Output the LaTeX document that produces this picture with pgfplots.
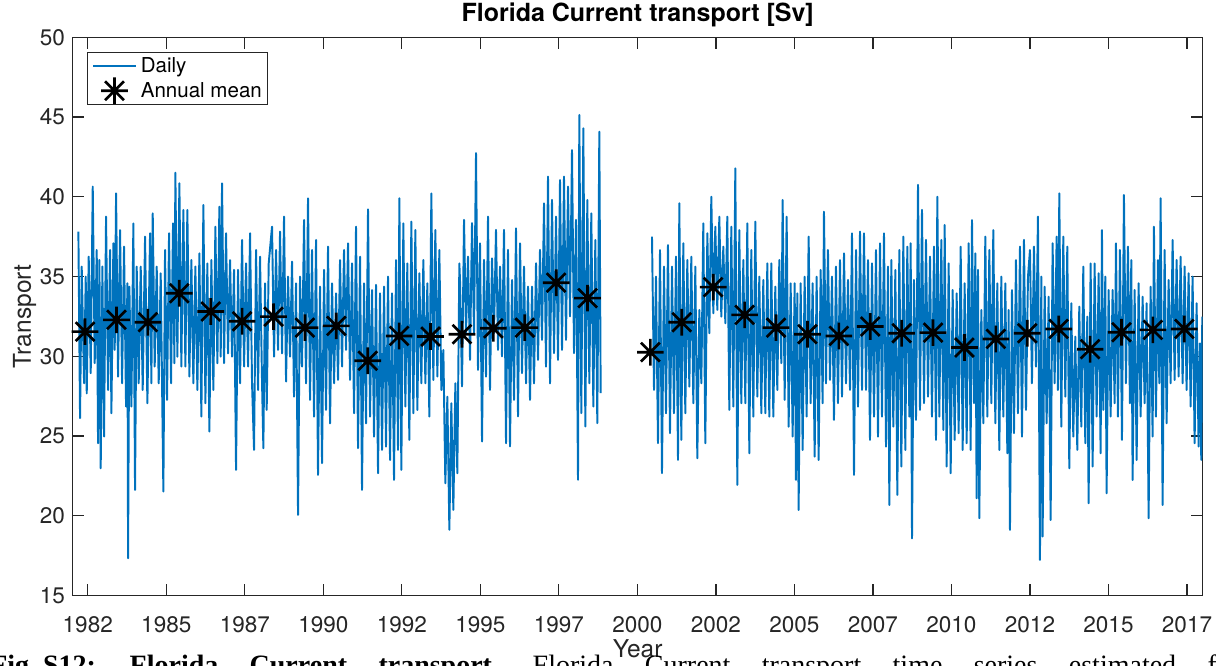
\documentclass[border=0pt]{standalone}
\usepackage{pgfplots}
\pgfplotsset{compat=1.18}
\usepackage{pgfplotstable}
\usepackage{fontspec}
\setmainfont{TeX Gyre Heros}
\newfontfamily\capfont{Liberation Serif}
\definecolor{mblue}{rgb}{0,0.447,0.741}
\definecolor{axgray}{rgb}{0.15,0.15,0.15}
\pgfdeclareplotmark{mstar}{%
 \pgfpathmoveto{\pgfqpoint{-\pgfplotmarksize}{0pt}}%
 \pgfpathlineto{\pgfqpoint{\pgfplotmarksize}{0pt}}%
 \pgfpathmoveto{\pgfqpoint{0pt}{-\pgfplotmarksize}}%
 \pgfpathlineto{\pgfqpoint{0pt}{\pgfplotmarksize}}%
 \pgfpathmoveto{\pgfqpoint{-0.7071\pgfplotmarksize}{-0.7071\pgfplotmarksize}}%
 \pgfpathlineto{\pgfqpoint{0.7071\pgfplotmarksize}{0.7071\pgfplotmarksize}}%
 \pgfpathmoveto{\pgfqpoint{-0.7071\pgfplotmarksize}{0.7071\pgfplotmarksize}}%
 \pgfpathlineto{\pgfqpoint{0.7071\pgfplotmarksize}{-0.7071\pgfplotmarksize}}%
 \pgfusepathqstroke}
\pgfplotsset{
  legline/.style={legend image code/.code={%
    \pgfpathrectangle{\pgfqpoint{0pt}{-6pt}}{\pgfqpoint{32.25pt}{12pt}}\pgfusepath{use as bounding box}%
    \draw[##1] (0pt,0pt) -- (32.25pt,0pt);}},
  legmark/.style={legend image code/.code={%
    \pgfpathrectangle{\pgfqpoint{0pt}{-6pt}}{\pgfqpoint{32.25pt}{12pt}}\pgfusepath{use as bounding box}%
    \draw[##1] plot coordinates {(16pt,0pt)};}},
}

\pgfplotstableread{
x y
1982.201 37.81
1982.254 26.11
1982.307 35.62
1982.382 28.30
1982.435 34.99
1982.467 27.67
1982.530 36.24
1982.594 28.93
1982.658 40.63
1982.721 29.56
1982.785 36.66
1982.827 24.54
1982.870 36.03
1982.912 22.97
1982.965 35.62
1983.018 24.96
1983.082 38.75
1983.146 27.88
1983.209 36.66
1983.252 26.42
1983.316 37.08
1983.358 30.39
1983.401 40.21
1983.464 28.72
1983.528 37.91
1983.592 28.30
1983.655 36.87
1983.719 26.84
1983.761 34.57
1983.783 17.33
1983.825 34.36
1983.889 26.84
1983.952 38.33
1984.005 21.61
1984.058 35.62
1984.122 28.30
1984.186 35.62
1984.249 27.88
1984.324 37.50
1984.398 27.05
1984.483 37.71
1984.525 28.30
1984.568 38.96
1984.631 29.35
1984.695 35.62
1984.759 28.30
1984.822 35.20
1984.907 21.51
1984.960 36.66
1985.024 27.26
1985.088 37.71
1985.151 28.30
1985.215 38.33
1985.258 29.56
1985.289 41.51
1985.353 29.97
1985.417 40.84
1985.480 29.35
1985.544 39.17
1985.608 29.35
1985.671 39.17
1985.735 28.72
1985.799 36.03
1985.862 28.30
1985.926 35.62
1985.990 27.88
1986.054 36.45
1986.117 26.21
1986.181 39.48
1986.245 27.05
1986.308 35.82
1986.372 25.27
1986.436 36.03
1986.499 27.88
1986.563 38.12
1986.627 29.56
1986.690 39.38
1986.733 29.97
1986.775 40.84
1986.839 29.56
1986.902 37.71
1986.966 30.18
1987.030 36.03
1987.093 29.97
1987.157 35.41
1987.221 22.87
1987.284 35.41
1987.348 28.30
1987.412 37.29
1987.476 29.35
1987.539 35.82
1987.603 29.35
1987.667 37.71
1987.730 28.30
1987.794 24.12
1987.858 36.66
1987.921 27.88
1987.985 36.24
1988.049 28.30
1988.091 24.23
1988.144 34.57
1988.197 26.63
1988.261 35.82
1988.367 38.12
1988.431 29.97
1988.494 36.66
1988.558 30.39
1988.622 37.81
1988.685 30.18
1988.749 38.75
1988.813 28.41
1988.876 34.99
1988.940 29.97
1989.004 35.93
1989.067 27.46
1989.131 34.57
1989.195 20.05
1989.258 34.99
1989.322 29.35
1989.386 38.54
1989.449 28.30
1989.513 39.90
1989.577 27.26
1989.640 36.66
1989.704 26.21
1989.768 37.29
1989.831 22.55
1989.895 34.36
1989.959 23.29
1990.023 35.41
1990.086 26.63
1990.150 36.87
1990.214 25.79
1990.277 34.57
1990.341 28.30
1990.405 33.94
1990.468 28.51
1990.532 36.03
1990.596 29.35
1990.659 36.66
1990.723 30.39
1990.787 37.08
1990.850 28.51
1990.914 35.82
1990.978 26.42
1991.041 38.12
1991.105 24.23
1991.169 36.24
1991.232 21.61
1991.296 34.57
1991.360 25.79
1991.423 39.21
1991.487 26.21
1991.551 34.15
1991.614 24.96
1991.678 34.47
1991.742 22.66
1991.805 33.94
1991.869 24.12
1991.933 34.36
1991.996 24.33
1992.060 34.99
1992.124 23.49
1992.187 33.94
1992.251 22.24
1992.315 36.03
1992.378 24.12
1992.421 39.90
1992.484 22.87
1992.548 38.33
1992.612 26.84
1992.675 35.82
1992.739 24.75
1992.803 38.44
1992.867 26.42
1992.930 37.91
1992.994 26.63
1993.058 35.20
1993.121 28.30
1993.185 36.03
1993.249 28.30
1993.312 34.57
1993.376 26.21
1993.440 40.21
1993.503 28.51
1993.567 37.91
1993.631 28.72
1993.694 36.66
1993.758 27.88
1993.822 30.39
1993.885 22.03
1993.949 27.46
1994.013 19.11
1994.076 27.05
1994.140 20.36
1994.204 28.30
1994.267 22.66
1994.331 35.82
1994.352 34.78
1994.416 28.10
1994.480 38.55
1994.543 31.44
1994.607 36.25
1994.671 29.77
1994.734 38.34
1994.798 31.44
1994.862 42.73
1994.925 29.14
1994.989 37.08
1995.053 24.65
1995.116 36.04
1995.180 28.72
1995.244 38.76
1995.307 27.89
1995.371 36.14
1995.435 31.44
1995.498 37.92
1995.562 30.40
1995.626 35.62
1995.689 29.98
1995.753 37.92
1995.817 24.54
1995.880 36.67
1995.944 24.34
1996.008 34.78
1996.072 27.26
1996.135 38.02
1996.199 26.22
1996.263 37.08
1996.326 28.93
1996.390 35.62
1996.454 28.30
1996.517 34.37
1996.581 27.26
1996.645 34.37
1996.708 28.30
1996.772 35.83
1996.836 29.77
1996.899 36.67
1996.963 31.02
1997.027 39.59
1997.090 29.35
1997.154 41.26
1997.218 28.30
1997.281 39.80
1997.345 30.19
1997.409 38.76
1997.472 29.77
1997.536 41.05
1997.600 30.40
1997.663 41.26
1997.727 31.02
1997.791 40.64
1997.854 32.49
1997.918 42.93
1997.982 30.19
1998.045 38.55
1998.109 22.25
1998.151 45.13
1998.215 26.43
1998.279 44.29
1998.343 25.59
1998.406 39.80
1998.470 28.30
1998.533 38.96
1998.597 26.84
1998.661 37.29
1998.724 25.80
1998.788 44.08
1998.831 27.68
}\dailyA

\pgfplotstableread{
x y
2000.465 37.50
2000.529 27.88
2000.592 34.99
2000.656 24.54
2000.720 36.66
2000.783 22.66
2000.847 35.62
2000.911 26.42
2000.974 36.97
2001.038 25.17
2001.102 35.62
2001.165 26.42
2001.229 36.24
2001.293 23.49
2001.335 39.59
2001.399 24.75
2001.463 37.08
2001.526 26.42
2001.590 36.03
2001.654 28.09
2001.717 36.24
2001.781 27.05
2001.845 35.62
2001.908 23.60
2001.972 32.90
2002.036 28.30
2002.099 38.33
2002.163 24.54
2002.227 37.71
2002.290 31.44
2002.354 40.00
2002.418 32.69
2002.481 38.12
2002.545 32.90
2002.609 38.75
2002.672 32.48
2002.736 36.87
2002.800 32.06
2002.863 38.75
2002.927 26.63
2002.991 38.12
2003.054 26.84
2003.118 41.78
2003.182 21.93
2003.245 37.91
2003.309 27.05
2003.373 36.03
2003.436 27.05
2003.500 38.33
2003.564 23.91
2003.627 36.66
2003.691 26.21
2003.755 38.44
2003.818 27.46
2003.882 34.99
2003.946 26.42
2004.009 34.78
2004.073 26.42
2004.137 35.82
2004.200 26.21
2004.264 35.82
2004.328 26.21
2004.391 34.36
2004.455 27.88
2004.519 36.03
2004.582 29.56
2004.625 39.80
2004.689 27.26
2004.752 38.75
2004.816 25.58
2004.880 34.57
2004.943 24.96
2005.007 34.57
2005.049 22.24
2005.092 33.94
2005.134 20.36
2005.198 34.57
2005.262 24.12
2005.325 34.99
2005.389 26.21
2005.453 37.50
2005.516 27.05
2005.580 34.57
2005.644 23.70
2005.707 34.99
2005.771 23.49
2005.835 35.41
2005.898 27.05
2005.941 39.06
2006.005 28.30
2006.068 36.66
2006.132 28.51
2006.196 34.99
2006.259 26.00
2006.323 35.62
2006.387 27.05
2006.451 36.03
2006.515 27.46
2006.579 36.45
2006.642 28.30
2006.706 34.78
2006.770 27.88
2006.833 37.71
2006.897 22.55
2006.961 36.66
2007.024 26.84
2007.088 37.81
2007.152 27.88
2007.215 37.71
2007.279 27.88
2007.343 36.03
2007.406 24.75
2007.470 35.82
2007.534 26.21
2007.597 36.66
2007.661 24.96
2007.725 37.08
2007.788 26.21
2007.852 37.71
2007.916 24.33
2007.979 35.62
2008.022 20.67
2008.086 36.03
2008.149 25.58
2008.213 35.41
2008.277 21.30
2008.340 36.66
2008.404 23.08
2008.468 37.50
2008.531 24.12
2008.595 36.87
2008.659 26.21
2008.701 37.08
2008.744 18.58
2008.807 34.78
2008.871 26.00
2008.935 40.74
2008.998 26.63
2009.062 39.17
2009.126 27.05
2009.189 37.29
2009.253 27.46
2009.317 36.24
2009.380 26.21
2009.444 36.87
2009.508 24.75
2009.550 40.00
2009.614 26.21
2009.677 37.29
2009.741 25.37
2009.784 38.23
2009.847 23.08
2009.911 35.82
2009.975 22.66
2010.038 34.15
2010.102 24.75
2010.166 33.94
2010.229 25.17
2010.293 36.87
2010.357 24.12
2010.420 34.57
2010.484 24.54
2010.548 37.08
2010.611 24.12
2010.654 38.54
2010.717 27.05
2010.760 36.45
2010.802 21.09
2010.845 35.41
2010.887 19.84
2010.951 32.90
2011.015 25.79
2011.078 37.50
2011.142 26.21
2011.206 36.66
2011.269 27.05
2011.333 37.91
2011.397 25.79
2011.460 34.57
2011.524 24.12
2011.588 34.99
2011.651 26.21
2011.715 34.57
2011.779 23.91
2011.821 32.90
2011.863 19.11
2011.927 34.15
2011.991 25.17
2012.054 36.03
2012.118 26.42
2012.182 36.87
2012.246 24.96
2012.309 37.29
2012.373 26.63
2012.437 34.99
2012.500 36.66
2012.563 28.30
2012.627 36.87
2012.691 29.35
2012.754 38.75
2012.818 17.22
2012.861 34.99
2012.903 18.69
2012.967 34.36
2013.030 25.79
2013.094 33.73
2013.158 19.73
2013.221 37.08
2013.285 28.30
2013.349 37.50
2013.391 27.88
2013.434 40.21
2013.497 25.58
2013.561 37.50
2013.625 27.46
2013.688 36.87
2013.752 22.97
2013.816 33.32
2013.879 24.96
2013.943 31.23
2014.007 24.12
2014.070 33.11
2014.134 25.58
2014.198 35.62
2014.261 24.54
2014.325 32.48
2014.367 20.78
2014.431 35.82
2014.495 23.08
2014.558 35.82
2014.622 26.21
2014.686 35.20
2014.749 23.91
2014.792 37.91
2014.834 26.63
2014.898 34.99
2014.940 21.40
2015.004 34.15
2015.068 26.21
2015.131 34.15
2015.195 27.05
2015.238 37.08
2015.301 26.21
2015.365 36.66
2015.429 24.75
2015.492 40.11
2015.556 28.30
2015.620 36.87
2015.683 27.05
2015.726 36.03
2015.768 22.24
2015.832 34.15
2015.896 23.49
2015.959 34.57
2016.023 26.21
2016.087 33.73
2016.150 27.05
2016.214 33.32
2016.278 19.84
2016.341 34.36
2016.405 24.96
2016.447 38.12
2016.511 26.21
2016.575 36.03
2016.617 28.30
2016.660 39.90
2016.723 20.67
2016.787 36.66
2016.851 25.79
2016.914 34.78
2016.978 28.30
2017.042 37.29
2017.105 28.51
2017.169 36.03
2017.233 28.72
2017.296 36.24
2017.360 28.30
2017.424 35.62
2017.487 27.88
2017.551 35.20
2017.615 26.84
2017.678 34.99
2017.742 24.54
2017.806 33.32
2017.869 24.33
2017.912 30.81
2017.954 23.49
2017.986 32.48
}\dailyB

\pgfplotstableread{
x y
1982.414 31.54
1983.414 32.28
1984.414 32.13
1985.414 33.95
1986.414 32.80
1987.414 32.19
1988.414 32.48
1989.414 31.79
1990.414 31.90
1991.414 29.71
1992.414 31.27
1993.414 31.23
1994.414 31.38
1995.414 31.75
1996.414 31.79
1997.414 34.61
1998.414 33.64
2000.414 30.25
2001.414 32.13
2002.414 34.33
2003.414 32.59
2004.414 31.79
2005.414 31.38
2006.414 31.27
2007.414 31.86
2008.414 31.44
2009.414 31.48
2010.414 30.54
2011.414 31.08
2012.414 31.44
2013.414 31.71
2014.414 30.44
2015.414 31.50
2016.414 31.65
2017.414 31.71
}\annual

\begin{document}
\begin{tikzpicture}[x=0.75pt,y=0.75pt]
\useasboundingbox (0,0) rectangle (1216,666);
\begin{axis}[
  at={(54.525pt,52.95pt)}, anchor=south west,
  width=847.5pt, height=418.6pt, scale only axis,
  xmin=1982.02, xmax=2018.0, ymin=15, ymax=50,
  xtick={1982.5,1985,1987.5,1990,1992.5,1995,1997.5,2000,2002.5,2005,2007.5,2010,2012.5,2015,2017.5},
  xticklabels={1982,1985,1987,1990,1992,1995,1997,2000,2002,2005,2007,2010,2012,2015,2017},
  ytick={15,20,25,30,35,40,45,50},
  tick pos=both, tick align=inside, major tick length=8.5pt,
  axis line style={axgray, line width=0.9pt},
  every tick/.style={axgray, line width=0.9pt},
  /pgf/number format/assume math mode=true,
  ticklabel style={font=\fontsize{16.9}{20}\selectfont, text=axgray},
  xticklabel style={anchor=base, yshift=-28.2pt},
  yticklabel style={anchor=east, xshift=-2.3pt},
  title={\bfseries Florida Current transport [Sv]},
  title style={at={(axis description cs:0.5,1.01308)}, anchor=base, inner sep=0pt, font=\fontsize{18.75}{22}\selectfont},
  xlabel={Year},
  xlabel style={at={(axis description cs:0.5,-0.11038)}, anchor=base, inner sep=0pt, text=axgray, font=\fontsize{18.4}{22}\selectfont},
  ylabel={Transport},
  ylabel style={at={(axis description cs:-0.03708,0.5)}, anchor=base, inner sep=0pt, text=axgray, font=\fontsize{18.4}{22}\selectfont},
  legend cell align=left,
  legend style={at={(axis description cs:0.01239,0.9742)}, anchor=north west,
    draw=axgray, line width=0.75pt, fill=white, text=black,
    font=\fontsize{15.4}{18}\selectfont,
    inner xsep=4.5pt, inner ysep=4.15pt, row sep=5.75pt, column sep=3.5pt,
    nodes={inner sep=0pt}},
]
\addplot[mblue, line width=1.45pt, line join=round, legline] table {\dailyA};
\addlegendentry{Daily}
\addplot[mblue, line width=1.45pt, line join=round, forget plot] table {\dailyB};
\addplot[only marks, mark=mstar, mark size=10pt, black, line width=2pt, legmark] table {\annual};
\addlegendentry{Annual mean}
\end{axis}
\begin{scope}
\clip (0,0) rectangle (1216,666);
\node[anchor=base west, inner sep=0pt, font=\capfont\fontsize{21}{24}\selectfont] at (-10,-8.5)
  {\spaceskip=23.5pt\relax\textbf{Fig.\hspace{5.25pt}S12: Florida Current transport.} Florida Current transport time series estimated from};
\end{scope}
\end{tikzpicture}
\end{document}
